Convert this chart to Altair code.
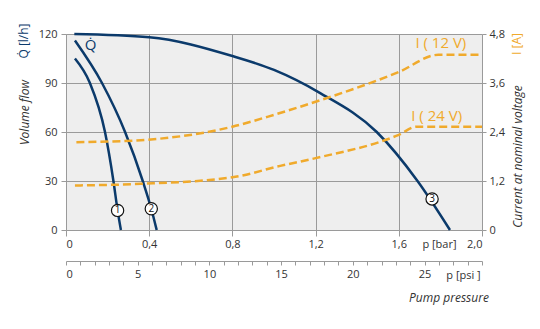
import altair as alt
import pandas as pd

# ---- data ----
q1_p = [0.043, 0.115, 0.1875, 0.228, 0.248, 0.264]
q1_v = [105, 90, 60, 30, 12, 0]
q2_p = [0.043, 0.173, 0.284, 0.369, 0.41, 0.436]
q2_v = [116, 90, 60, 30, 13, 0]
q3_p = [0.04, 0.4, 0.8, 1.0, 1.22, 1.494, 1.69, 1.846]
q3_v = [120, 118, 106.5, 98, 84, 60, 30, 0]

i12_p = [0.05, 0.36, 0.8, 1.0, 1.2, 1.6, 1.79, 2.0]
i12_v = [2.15, 2.2, 2.53, 2.82, 3.14, 3.87, 4.29, 4.29]
i24_p = [0.043, 0.36, 0.8, 1.03, 1.2, 1.6, 1.686, 2.0]
i24_v = [1.09, 1.13, 1.29, 1.57, 1.76, 2.33, 2.53, 2.53]

marker_names = ["1", "2", "3"]
marker_p = [0.248, 0.41, 1.76]
marker_q = [12, 13, 19]

q_label = ["Q̇"]
q_label_p = [0.09]
q_label_q = [113]

i_labels = ["I ( 12 V)", "I ( 24 V)"]
i_label_p = [1.68, 1.66]
i_label_i = [4.58, 2.79]

psi_range = [0, 29.0076]

BLUE = "#0b3a6b"
ORANGE = "#f0aa2c"
FONT = "Open Sans"
TXT = "#333333"

q_df = pd.concat([
    pd.DataFrame({"curve": "1", "p": q1_p, "q": q1_v}),
    pd.DataFrame({"curve": "2", "p": q2_p, "q": q2_v}),
    pd.DataFrame({"curve": "3", "p": q3_p, "q": q3_v}),
])
i_df = pd.concat([
    pd.DataFrame({"curve": "12", "p": i12_p, "i": i12_v}),
    pd.DataFrame({"curve": "24", "p": i24_p, "i": i24_v}),
])
mk_df = pd.DataFrame({"name": marker_names, "p": marker_p, "q": marker_q})
ql_df = pd.DataFrame({"t": q_label, "p": q_label_p, "q": q_label_q})
il_df = pd.DataFrame({"t": i_labels, "p": i_label_p, "i": i_label_i})
psi_df = pd.DataFrame({"psi": psi_range})

num_expr = "datum.value == 0 ? '0' : replace(format(datum.value, '.1f'), '.', ',')"

x_bar_axis = alt.X(
    "p:Q",
    scale=alt.Scale(domain=[0, 2], nice=False, zero=False),
    axis=alt.Axis(
        values=[0, 0.4, 0.8, 1.2, 1.6, 2.0], labelExpr=num_expr, grid=True,
        gridColor="#9a9a9a", gridWidth=1, domain=False, tickColor="#9a9a9a",
        tickSize=6, labelPadding=2, labelFontSize=11, labelColor=TXT, labelFont=FONT,
        title="p  [bar]", titleFont=FONT, titleFontSize=11, titleFontWeight="normal",
        titleColor=TXT, titleX=373, titleY=14, titleBaseline="middle", titleAnchor="middle",
        titleAlign="center",
    ),
)
x_bar_none = alt.X("p:Q", scale=alt.Scale(domain=[0, 2], nice=False, zero=False), axis=None)

y_q_axis = alt.Y(
    "q:Q",
    scale=alt.Scale(domain=[0, 120], nice=False),
    axis=alt.Axis(
        values=[0, 30, 60, 90, 120], grid=True, gridColor="#9a9a9a", gridWidth=1,
        domain=True, domainColor="#9a9a9a", tickColor="#9a9a9a", tickSize=5,
        labelPadding=4, labelFontSize=11, labelColor=TXT, labelFont=FONT,
        title="Volume flow", titleFont=FONT, titleFontSize=12, titleFontStyle="italic",
        titleFontWeight="normal", titleColor=TXT, titleX=-42, titleY=78,
        titleAngle=270, titleAlign="center", titleBaseline="middle",
    ),
)
y_q_none = alt.Y("q:Q", scale=alt.Scale(domain=[0, 120], nice=False), axis=None)

y_i_axis = alt.Y(
    "i:Q",
    scale=alt.Scale(domain=[0, 4.8], nice=False),
    axis=alt.Axis(
        orient="right", values=[0, 1.2, 2.4, 3.6, 4.8], labelExpr=num_expr, grid=False,
        domain=False, tickColor="#9a9a9a", tickSize=4, labelPadding=3, labelFontSize=11,
        labelColor=TXT, labelFont=FONT,
        title="Current at nominal voltage", titleFont=FONT, titleFontSize=12,
        titleFontStyle="italic", titleFontWeight="normal", titleColor=TXT,
        titleX=35, titleY=122, titleAngle=270, titleAlign="center", titleBaseline="middle",
    ),
)
y_i_none = alt.Y("i:Q", scale=alt.Scale(domain=[0, 4.8], nice=False), axis=None)

q_lines = alt.Chart(q_df).mark_line(color=BLUE, strokeWidth=2.5, interpolate="monotone").encode(
    x=x_bar_axis, y=y_q_axis, detail="curve:N"
)
markers = alt.Chart(mk_df).mark_point(
    shape="circle", filled=True, fill="white", stroke="#111111", strokeWidth=1.2, size=150, opacity=1
).encode(x=x_bar_none, y=y_q_none)
marker_text = alt.Chart(mk_df).mark_text(fontSize=10, font=FONT, color="#111111").encode(
    x=x_bar_none, y=y_q_none, text="name:N"
)
q_text = alt.Chart(ql_df).mark_text(fontSize=15, font=FONT, color=BLUE, align="left").encode(
    x=x_bar_none, y=y_q_none, text="t:N"
)

i_lines = alt.Chart(i_df).mark_line(
    color=ORANGE, strokeWidth=2.5, strokeDash=[8, 4], interpolate="monotone"
).encode(x=x_bar_none, y=y_i_axis, detail="curve:N")
i_text = alt.Chart(il_df).mark_text(fontSize=15, font=FONT, color=ORANGE, align="left").encode(
    x=x_bar_none, y=y_i_none, text="t:N"
)

psi_axis = alt.Chart(psi_df).mark_point(opacity=0).encode(
    x=alt.X(
        "psi:Q",
        scale=alt.Scale(domain=psi_range, nice=False, zero=False),
        axis=alt.Axis(
            orient="bottom", offset=31, values=list(range(0, 30)),
            labelExpr="datum.value % 5 == 0 ? datum.label : ''",
            grid=False, domain=True, domainColor="#9a9a9a", tickColor="#9a9a9a", tickSize=4,
            labelPadding=3, labelFontSize=11, labelColor=TXT, labelFont=FONT,
            title="p  [psi ]", titleFont=FONT, titleFontSize=11, titleFontWeight="normal",
            titleColor=TXT, titleX=397, titleY=14, titleBaseline="middle", titleAlign="center",
        ),
    )
)

annot_left = alt.Chart(ql_df).mark_text(
    text="Q̇ [l/h]", angle=270, fontSize=12, font=FONT, color=BLUE, align="center", baseline="middle"
).encode(x=alt.value(-42), y=alt.value(7))
annot_right = alt.Chart(ql_df).mark_text(
    text="I [A]", angle=270, fontSize=12, font=FONT, color=ORANGE, align="center", baseline="middle"
).encode(x=alt.value(451), y=alt.value(10))
annot_bottom = alt.Chart(ql_df).mark_text(
    text="Pump pressure", fontSize=12, fontStyle="italic", font=FONT, color=TXT,
    align="center", baseline="middle"
).encode(x=alt.value(383), y=alt.value(264))

chart = alt.layer(
    q_lines, i_lines, markers, marker_text, q_text, i_text, psi_axis,
    annot_left, annot_right, annot_bottom,
).resolve_scale(x="independent", y="independent").properties(
    width=416, height=196,
    autosize=alt.AutoSizeParams(type="none"),
    padding={"left": 66, "top": 34, "right": 58, "bottom": 99},
    background="white",
).configure_view(fill="#eeeeee", stroke=None)

chart.save("out.html", embed_options={"renderer": "svg", "actions": False})
